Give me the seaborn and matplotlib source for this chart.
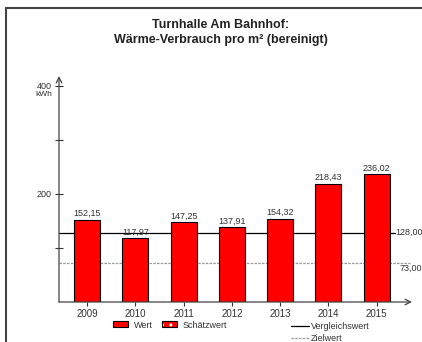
import matplotlib
matplotlib.use("Agg")
import matplotlib.pyplot as plt
import seaborn as sns
from matplotlib.patches import Patch
from matplotlib.lines import Line2D
from matplotlib.legend_handler import HandlerTuple

sns.set_style("white")
plt.rcParams['font.family'] = ['Liberation Sans', 'DejaVu Sans']

# data
years = ['2009', '2010', '2011', '2012', '2013', '2014', '2015']
werte = [152.15, 117.97, 147.25, 137.91, 154.32, 218.43, 236.02]
vergleichswert = 128.0
zielwert = 73.0

W, H = 422, 342
fig = plt.figure(figsize=(W / 100, H / 100), dpi=100)

# axes box in pixels: left 59, right 412, bottom 302, top 76
ax = fig.add_axes([59 / W, (H - 302) / H, (412 - 59) / W, (302 - 76) / H])

sns.barplot(x=years, y=werte, color='#ff0000', width=0.54, saturation=1,
            edgecolor='black', linewidth=0.8, ax=ax, zorder=3)

ax.set_xlim(-0.58, 6.73)
ax.set_ylim(0, 418)

# reference lines
ax.plot([-0.58, 6.38], [vergleichswert] * 2, color='black', lw=0.9, zorder=2)
ax.plot([-0.58, 6.69], [zielwert] * 2, color='#999999', lw=0.9,
        ls=(0, (2, 1)), zorder=2)
ax.text(6.38, vergleichswert, f"{vergleichswert:.2f}".replace('.', ','),
        fontsize=6.5, color='#333333', va='center', ha='left')
ax.text(6.47, zielwert - 11, f"{zielwert:.2f}".replace('.', ','),
        fontsize=6.5, color='#333333', va='center', ha='left')

# value labels
for i, v in enumerate(werte):
    ax.text(i, v + 3, f"{v:.2f}".replace('.', ','), ha='center', va='bottom',
            fontsize=6.5, color='#333333', zorder=4)

# axes with arrow heads
for s in ax.spines.values():
    s.set_visible(False)
ax.annotate('', xy=(1, 0), xytext=(0, 0), xycoords='axes fraction',
            arrowprops=dict(arrowstyle='->', color='#444444', lw=0.9,
                            shrinkA=0, shrinkB=0), annotation_clip=False)
ax.annotate('', xy=(0, 1), xytext=(0, 0), xycoords='axes fraction',
            arrowprops=dict(arrowstyle='->', color='#444444', lw=0.9,
                            shrinkA=0, shrinkB=0), annotation_clip=False)

ax.set_yticks([100, 200, 300, 400])
ax.set_yticklabels(['', '200', '', '400'])
ax.tick_params(axis='y', direction='inout', length=6, width=0.8,
               color='#333333', labelsize=6.5, labelcolor='#333333', pad=2,
               left=True)
ax.tick_params(axis='x', direction='out', length=3, width=0.8,
               color='#333333', labelsize=7, labelcolor='#333333', pad=2,
               bottom=True)
ax.set_xlabel('')
ax.set_ylabel('')
ax.annotate('kWh', xy=(0, 400), xycoords=ax.get_yaxis_transform(),
            xytext=(-5, -6.5), textcoords='offset points',
            fontsize=6, color='#333333', ha='right', va='center')

# title
fig.text(221 / W, 1 - 25 / H, 'Turnhalle Am Bahnhof:', ha='center',
         va='center', fontsize=9, fontweight='bold', color='#222222')
fig.text(221 / W, 1 - 40 / H, 'Wärme-Verbrauch pro m² (bereinigt)',
         ha='center', va='center', fontsize=9, fontweight='bold',
         color='#222222')

# legends
wert_h = Patch(facecolor='#ff0000', edgecolor='black', lw=0.8)
schaetz_h = (Patch(facecolor='#ff0000', edgecolor='white', lw=0, hatch='..'),
             Patch(facecolor='none', edgecolor='black', lw=0.8))
leg1 = fig.legend([wert_h, schaetz_h], ['Wert', 'Schätzwert'], ncol=2,
                  frameon=False, fontsize=6.5, loc='center left',
                  bbox_to_anchor=(105 / W, 1 - 325 / H),
                  handlelength=1.7, handleheight=0.6, handletextpad=0.6,
                  columnspacing=1.0,
                  handler_map={tuple: HandlerTuple(ndivide=1, pad=0)})
h2 = [Line2D([], [], color='black', lw=0.9),
      Line2D([], [], color='#999999', lw=0.9, ls=(0, (2, 1)))]
leg2 = fig.legend(h2, ['Vergleichswert', 'Zielwert'], ncol=1, frameon=False,
                  fontsize=6.5, loc='upper left',
                  bbox_to_anchor=(283 / W, 1 - 314 / H),
                  handlelength=2.0, handletextpad=0.2, labelspacing=0.35)
for leg in (leg1, leg2):
    for t in leg.get_texts():
        t.set_color('#333333')

# outer frame (top and left only)
fig.add_artist(Line2D([6 / W, 6 / W], [0, 1 - 8 / H], color='#444444', lw=1.5))
fig.add_artist(Line2D([6 / W, 1], [1 - 8 / H, 1 - 8 / H], color='#444444', lw=1.5))

fig.savefig('out.png', dpi=100)
